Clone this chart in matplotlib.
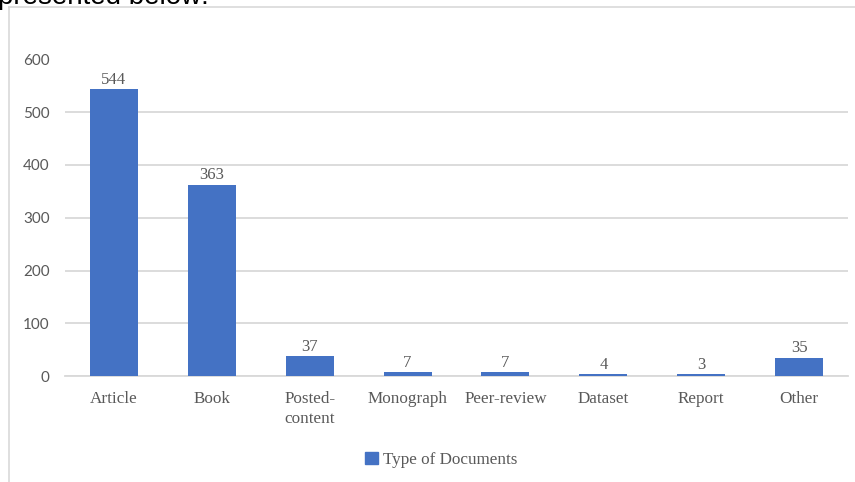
import matplotlib
matplotlib.use("Agg")
import matplotlib.pyplot as plt
from matplotlib.patches import Patch
from matplotlib.lines import Line2D

categories = ["Article", "Book", "Posted-\ncontent", "Monograph", "Peer-review",
              "Dataset", "Report", "Other"]
counts = [544, 363, 37, 7, 7, 4, 3, 35]
yticks = [0, 100, 200, 300, 400, 500, 600]
series_name = "Type of Documents"

W, H = 855, 482
blue = "#4472C4"
grey_txt = "#595959"
grid_c = "#d9d9d9"
serif = "Liberation Serif"

fig = plt.figure(figsize=(W / 100, H / 100), dpi=100)
ax = fig.add_axes([65 / W, (H - 376) / H, (848 - 65) / W, (376 - 59.5) / H])

x = range(len(categories))
bars = ax.bar(x, counts, width=0.49, color=blue, zorder=3)
for b, v in zip(bars, counts):
    ax.annotate(str(v), (b.get_x() + b.get_width() / 2, v), xytext=(0, 1),
                textcoords="offset points", ha="center", va="bottom",
                fontsize=12, family=serif, color=grey_txt)

ax.set_xlim(-0.5, len(categories) - 0.5)
ax.set_ylim(0, 600)
ax.set_yticks(yticks)
ax.set_xticks(list(x))
ax.set_xticklabels(categories, family=serif, fontsize=12.3, color=grey_txt,
                   linespacing=1.3, va="top")
for lab in ax.get_yticklabels():
    lab.set_family("Lato")
    lab.set_fontsize(11)
    lab.set_color(grey_txt)
ax.tick_params(length=0)
ax.tick_params(axis="y", pad=11)
ax.tick_params(axis="x", pad=11)
ax.grid(axis="y", color=grid_c, linewidth=1.3, zorder=0)
for s in ["top", "right", "left"]:
    ax.spines[s].set_visible(False)
ax.spines["bottom"].set_color(grid_c)
ax.spines["bottom"].set_linewidth(1.3)

fig.legend(handles=[Patch(color=blue, label=series_name)],
           loc="center", bbox_to_anchor=(441 / W, (H - 460) / H),
           frameon=False, handlelength=0.75, handleheight=0.75,
           handletextpad=0.3, prop={"family": serif, "size": 12.3},
           labelcolor=grey_txt)

# chart frame
fig.add_artist(Line2D([9 / W, 9 / W], [0, (H - 7) / H], color=grid_c, lw=1.2))
fig.add_artist(Line2D([9 / W, 1], [(H - 7) / H, (H - 7) / H], color=grid_c, lw=1.2))

# cut-off line of page text above the chart
fig.text(-2 / W, (H - 4) / H, "presented below:", fontsize=20,
         family="Liberation Sans", color="black", va="baseline")

fig.savefig("out.png", dpi=100)
